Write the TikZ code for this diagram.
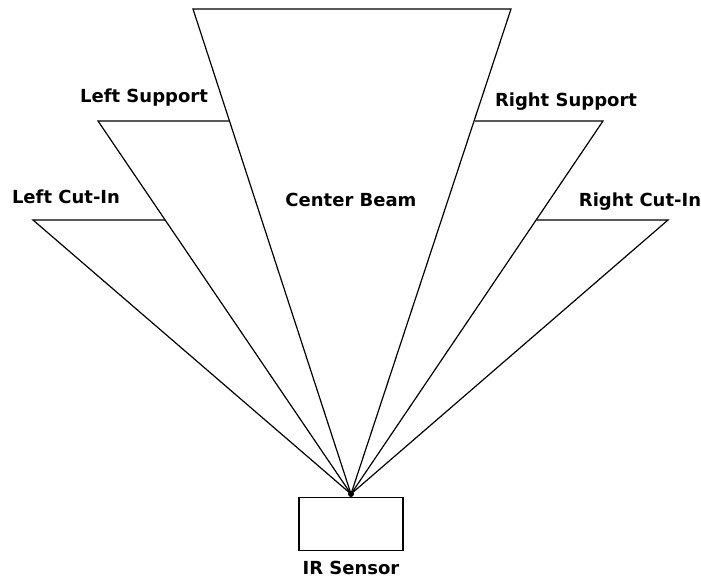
\documentclass[tikz,border=0pt]{standalone}
\usepackage{fontspec}
\setmainfont{DejaVu Sans}

\begin{document}
\begin{tikzpicture}[x=1pt,y=-1pt,line width=1.2pt,
    lbl/.style={anchor=base,inner sep=0pt,font=\fontsize{18}{21}\selectfont\bfseries}]
    \useasboundingbox (0,0) rectangle (701,577);
    % Points
    \coordinate (apex) at (351,494);
    \coordinate (cl) at (193,9);
    \coordinate (cr) at (511,9);
    \coordinate (sl) at (98,121);
    \coordinate (sr) at (603,121);
    \coordinate (il) at (33,220);
    \coordinate (ir) at (668,220);
    % Beams
    \draw (apex) -- (cl) -- (cr) -- cycle;
    \draw (apex) -- (sl) -- (sl -| 229,0);
    \draw (apex) -- (sr) -- (sr -| 475,0);
    \draw (apex) -- (il) -- (il -| 165,0);
    \draw (apex) -- (ir) -- (ir -| 537,0);
    % Sensor
    \fill (apex) circle (3);
    \node[draw,minimum width=104pt,minimum height=53pt,inner sep=0pt,anchor=north] (sensor) at (351,497) {};
    % Labels
    \node[lbl] (center) at (351,207) {Center Beam};
    \node[lbl] (lsup) at (144,103) {Left Support};
    \node[lbl] (rsup) at (566,107) {Right Support};
    \node[lbl] (lcut) at (66,204) {Left Cut-In};
    \node[lbl] (rcut) at (640,207) {Right Cut-In};
    \node[lbl] (irs) at (351,574) {IR Sensor};
\end{tikzpicture}
\end{document}
